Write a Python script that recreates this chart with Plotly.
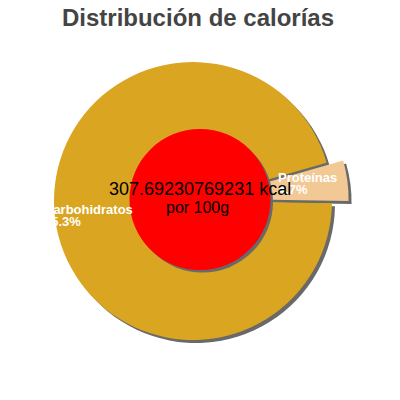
import plotly.graph_objects as go

# ---- data ----
labels = ["Proteínas", "Carbohidratos"]
values = [4.7, 95.3]
slice_colors = ["#F2C894", "#DAA520"]
pulls = [0.12, 0.0]
energy_line1 = "307.69230769231 kcal"
energy_line2 = "por 100g"
title_text = "Distribución de calorías"

W = H = 400
FONT = "Liberation Sans, Arial, sans-serif"
SHADOW = "#696969"


def dom(cx, cy, half):
    return dict(x=[(cx - half) / W, (cx + half) / W],
                y=[1 - (cy + half) / H, 1 - (cy - half) / H])


# pie geometry in pixels
pcx, pcy, R = 193, 201, 139
half = R * (1 + max(pulls))
dcx, dcy, dr = 200, 199.5, 70.5
off = 3

common = dict(labels=labels, values=values, sort=False, direction="clockwise",
              rotation=74, pull=pulls, textinfo="none", hoverinfo="none",
              showlegend=False)

fig = go.Figure()
# shadow of the pie
fig.add_trace(go.Pie(**common, domain=dom(pcx + off, pcy + off, half),
                     marker=dict(colors=[SHADOW, SHADOW], line=dict(width=0))))
# main pie
fig.add_trace(go.Pie(**common, domain=dom(pcx, pcy, half),
                     marker=dict(colors=slice_colors, line=dict(width=0))))
# shadow of the centre disc
fig.add_trace(go.Pie(values=[1], sort=False, textinfo="none", hoverinfo="none",
                     showlegend=False, domain=dom(dcx + 2.5, dcy + 2.5, dr),
                     marker=dict(colors=[SHADOW], line=dict(width=0))))
# centre disc
fig.add_trace(go.Pie(values=[1], sort=False, textinfo="none", hoverinfo="none",
                     showlegend=False, domain=dom(dcx, dcy, dr),
                     marker=dict(colors=["#FF0000"], line=dict(width=0))))

annotations = []
# slice labels (name and percentage lines)
label_pos = {"Proteínas": (277, 177.5), "Carbohidratos": (43, 209)}
for lab, val in zip(labels, values):
    lx, ly = label_pos[lab]
    annotations.append(dict(x=lx / W, y=1 - ly / H, xref="paper", yref="paper",
                            text=lab, showarrow=False, xanchor="left", yanchor="middle",
                            font=dict(family=FONT, size=13, color="white", weight="bold"),
                            borderpad=0))
    annotations.append(dict(x=lx / W, y=1 - (ly + 12) / H, xref="paper", yref="paper",
                            text=f"{val}%", showarrow=False, xanchor="left", yanchor="middle",
                            font=dict(family=FONT, size=13, color="white", weight="bold"),
                            borderpad=0))
# centre text
annotations.append(dict(x=199.5 / W, y=1 - 189 / H, xref="paper", yref="paper",
                        text=energy_line1, showarrow=False, xanchor="center", yanchor="middle",
                        font=dict(family=FONT, size=18, color="black")))
annotations.append(dict(x=197.5 / W, y=1 - 207.5 / H, xref="paper", yref="paper",
                        text=energy_line2, showarrow=False, xanchor="center", yanchor="middle",
                        font=dict(family=FONT, size=16, color="black")))

fig.update_layout(
    width=W, height=H,
    margin=dict(l=0, r=0, t=0, b=0),
    paper_bgcolor="white", plot_bgcolor="white",
    title=dict(text=title_text, x=198 / W, y=1 - 17.5 / H, xanchor="center", yanchor="middle",
               font=dict(family=FONT, size=24, color="#444444", weight="bold")),
    annotations=annotations,
)

fig.write_html("out.html", config={"displayModeBar": False},
               post_script="document.body.style.margin='0';document.body.style.overflow='hidden';")
